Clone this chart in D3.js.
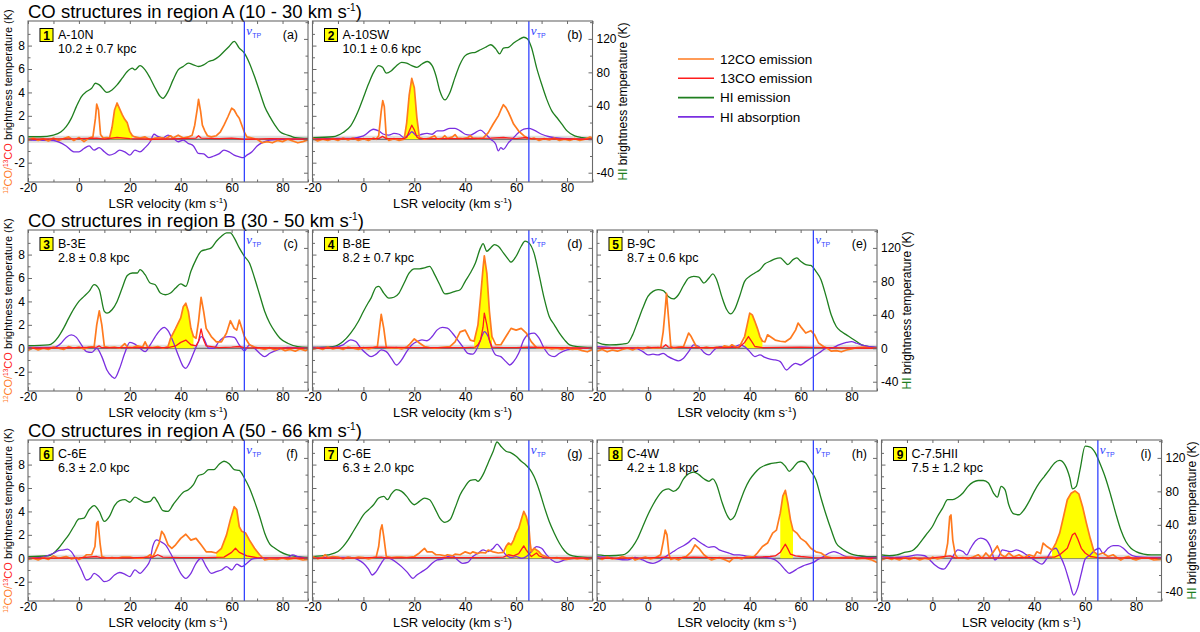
<!DOCTYPE html>
<html>
<head>
<meta charset="utf-8">
<script src="https://cdn.jsdelivr.net/npm/d3@7"></script>
<style>
body { margin: 0; background: #fff; }
svg { display: block; }
text { font-family: "Liberation Sans", Arial, sans-serif; }
</style>
</head>
<body>
<div id="chart"></div>
<script>
// ---- data ----
// velocities in km/s, CO in K (left axis), HI in K (right axis)

var rowTitles = ["CO structures in region A (10 - 30 km s", "CO structures in region B (30 - 50 km s", "CO structures in region A (50 - 66 km s"];
var panelIds = ["a", "b", "c", "d", "e", "f", "g", "h", "i"];
var structureNames = ["A-10N", "A-10SW", "B-3E", "B-8E", "B-9C", "C-6E", "C-6E", "C-4W", "C-7.5HII"];
var distances = ["10.2 \u00b1 0.7 kpc", "10.1 \u00b1 0.6 kpc", "2.8 \u00b1 0.8 kpc", "8.2 \u00b1 0.7 kpc", "8.7 \u00b1 0.6 kpc",
                 "6.3 \u00b1 2.0 kpc", "6.3 \u00b1 2.0 kpc", "4.2 \u00b1 1.8 kpc", "7.5 \u00b1 1.2 kpc"];
var fillRanges = [[12, 21], [16, 22], [35, 45.5], [43, 51], [37.5, 45], [54, 71.5], [55.5, 71], [51.5, 57], [47, 65]];
var tangentVelocity = 65;
var xTicks = [-20, 0, 20, 40, 60, 80];
var coTicks = [-2, 0, 2, 4, 6, 8];
var hiTicks = [-40, 0, 40, 80, 120];
var legendNames = ["12CO emission", "13CO emission", "HI emission", "HI absorption"];

// HI emission
var hiEmA = [[-20,3],[-15,3],[-10,5],[-7,9],[-5,15],[-3,25],[-1,39],[1,51],[3,57],[5,61],[6.5,67],[8,65],[11,56],[13,59],[15,65],[17,73],[19,81],[21,85],[22,83],[24,88],[26,83],[28,73],[30,61],[32,51],[33,49],[35,57],[37,71],[39,83],[41,87],[43,91],[45,89],[47,87],[49,89],[51,93],[53,95],[55,99],[57,105],[59,111],[61,117],[63,109],[65,103],[67,91],[69,75],[71,57],[73,39],[75,27],[77,17],[79,9],[81,6],[83,4],[85,2],[90,1]];
var hiEmB = [[-20,2],[-12,3],[-8,8],[-5,16],[-2,34],[0,50],[2,66],[4,80],[6,88],[7.5,86],[9,79],[11,82],[13,88],[15,92],[17,91],[19,88],[21,86],[23,90],[25,93],[27,88],[28.5,76],[30,58],[32,47],[34,56],[36,74],[38,90],[40,100],[42,103],[44,104],[46,107],[48,110],[50,113],[52,108],[53.5,102],[55,109],[57,110],[59,115],[61,119],[63,122],[64.5,120],[66,110],[68,86],[70,66],[72,48],[74,34],[76,26],[78,18],[80,10],[83,4],[86,2],[90,1]];
var hiEmC = [[-20,3],[-12,4],[-10,7],[-8,14],[-6,24],[-4,36],[-2,47],[0,56],[2,62],[4,68],[6,76],[8,70],[10,44],[11,42],[13,46],[15,56],[17,72],[19,87],[21,90],[23,90],[24,94],[26,88],[28,78],[30,76],[32,66],[34,64],[36,66],[38,72],[40,77],[42,74],[44,92],[46,106],[48,116],[50,118],[52,120],[54,128],[56,134],[58,138],[59.5,138],[61,132],[63,120],[65,110],[67,102],[69,84],[71,64],[73,44],[75,30],[77,20],[79,12],[82,6],[86,2],[90,1]];
var hiEmD = [[-20,1],[-12,2],[-8,8],[-5,18],[-2,32],[0,44],[2,55],[3,60],[5,73],[6,74],[8,66],[10,60],[12,61],[14,66],[16,78],[18,90],[20,95],[22,95],[24,96],[26,98],[28,88],[30,76],[32,65],[34,66],[36,68],[38,70],[40,80],[42,90],[44,102],[46,120],[47,125],[48.5,116],[50,120],[51.5,124],[53,122],[55,114],[57,106],[58,103],[60,110],[62,122],[63.5,128],[65,126],[67,114],[69,88],[71,60],[73,38],[75,28],[77,18],[79,10],[81,4],[84,2],[90,1]];
var hiEmE = [[-20,7],[-18,5],[-15,4],[-10,5],[-8,6],[-6,16],[-4,32],[-2,48],[0,62],[2,68],[4,70],[6,69],[8,62],[10,59],[12,64],[14,75],[16,84],[18,86],[20,85],[22,78],[24,84],[25.5,89],[27,82],[29,62],[31,46],[32.5,41],[34,46],[36,62],[38,80],[40,86],[42,90],[44,94],[46,101],[48,104],[50,107],[52,108],[53.5,104],[55,100],[57,106],[58.5,108],[60,104],[62,100],[64,99],[66,92],[68,82],[70,62],[72,40],[74,26],[76,20],[78,16],[80,12],[82,8],[84,4],[87,2],[90,1]];
var hiEmF = [[-20,2],[-12,3],[-10,6],[-8,12],[-6,20],[-4,28],[-2,38],[0,47],[2,48],[4,58],[6,63],[8,56],[10,44],[12,50],[14,63],[16,69],[18,70],[20,67],[22,73],[24,70],[26,67],[28,68],[29.5,73],[31,67],[33,57],[35,56],[37,64],[39,72],[41,79],[43,82],[45,88],[47,99],[49,101],[51,106],[53,106],[55,112],[57,116],[59,113],[61,106],[63,105],[65,96],[67,84],[69,68],[71,50],[73,30],[75,17],[77,12],[79,8],[82,4],[86,2],[90,1]];
var hiEmG = [[-20,2],[-14,4],[-10,8],[-8,14],[-6,22],[-4,32],[-2,42],[0,52],[2,58],[4,64],[6,72],[8,74],[9.5,70],[11,77],[13,82],[15,80],[17,74],[19,66],[20,64],[22,68],[24,72],[26,70],[28,60],[30,48],[32,43],[34,46],[36,60],[38,76],[40,86],[42,93],[44,94],[45,92],[47,100],[49,114],[51,128],[52.5,139],[54,134],[56,128],[58,126],[60,122],[62,116],[64,111],[65.5,106],[67,98],[69,82],[71,62],[73,44],[75,30],[77,18],[79,9],[81,4],[84,2],[90,1]];
var hiEmH = [[-20,4],[-15,3],[-10,4],[-8,7],[-6,14],[-4,24],[-2,38],[0,52],[2,64],[4,74],[6,81],[8,83],[10,80],[12,84],[14,95],[16,101],[18,103],[20,100],[22,95],[24,92],[25.5,95],[27,88],[29,68],[31,52],[32.5,46],[34,50],[36,66],[38,82],[40,94],[42,102],[44,108],[46,111],[48,113],[50,114],[52,115],[54,110],[55.5,104],[57,108],[59,115],[60.5,116],[62,114],[64,104],[66,94],[68,72],[70,52],[72,34],[74,18],[76,12],[78,8],[80,5],[83,3],[86,2],[90,2]];
var hiEmI = [[-20,4],[-17,3],[-14,4],[-11,7],[-8,9],[-6,14],[-4,22],[-2,30],[0,38],[2,50],[4,60],[6,70],[8,70],[10,73],[12,78],[14,86],[16,91],[18,93],[20,93],[22,90],[24,78],[25.5,73],[27,86],[28.5,82],[30,64],[32,53],[34,52],[36,58],[38,68],[40,80],[42,90],[44,98],[46,106],[48,114],[50,117],[52,112],[54,96],[55,83],[56.5,86],[58,106],[60,134],[62,133],[64,126],[66,112],[68,96],[70,76],[72,54],[74,34],[76,20],[78,12],[80,8],[83,5],[86,4],[90,4]];

// HI absorption
var hiAbsA = [[-20,-1],[-10,-1.5],[-5,-8],[-2,-15],[0,-15],[2,-11],[4,-8],[6,-13],[8,-10],[10,-15],[12,-19],[14,-17],[16,-13],[18,-15],[20,-19],[22,-13],[24,-15],[26,-10],[28,-3],[29.5,6],[31,3.5],[33,1.5],[35,5],[37,1.5],[39,-3],[41,-1],[43,-5],[45,-8],[47,-17],[49,-17.5],[51,-22],[53,-20],[55,-17.5],[57,-13],[59,-15],[61,-19],[63,-21],[64.5,-22],[66,-19],[68,-15],[70,-8],[72,-4],[75,-1],[80,0],[90,0]];
var hiAbsB = [[-20,0],[-10,1],[-5,1],[0,4],[4,12],[6,10],[8,6],[10,5],[12,7],[14,6],[16,2],[18,6],[19,9],[21,4],[23,6],[25,7],[27,6],[29,10],[31,10],[34,13],[36,13],[38,10],[40,6],[42,5],[44,8],[46,11],[48,6],[50,0],[52,-6],[53,-14],[54,-10],[55,-12],[57,-4],[59,2],[61,8],[63,12],[65,13],[67,11],[70,6],[73,3],[78,1],[90,0]];
var hiAbsC = [[-20,1],[-10,1],[-7,6],[-5,13],[-3,16],[-1,13],[1,4],[3,-4],[5,-5],[7,0],[9,-10],[11,-26],[13,-34],[14,-36],[16,-24],[18,-6],[20,7],[22,5],[24,0],[26,-4],[28,4],[30,14],[32,22],[33.5,25],[35,21],[37,8],[39,-8],[41,-22],[42,-24],[43,-20],[45,-6],[47,8],[48,14],[49,12],[51,0],[53,0],[55,8],[57,13],[59,14],[61,13],[63,4],[65,-3],[67,4],[69,0],[71,-6],[73,-10],[75,-6],[78,-2],[82,1],[90,0]];
var hiAbsD = [[-20,1],[-12,1],[-8,4],[-5,10],[-3,8],[-1,0],[1,-6],[3,-10],[5,-7],[7,-2],[9,-4],[11,-12],[13,-20],[15,-14],[17,-4],[19,4],[21,8],[23,10],[25,9],[27,14],[29,22],[31,25],[33,24],[35,18],[37,10],[39,2],[41,-6],[43,-7],[45,2],[46.5,14],[47.5,20],[49,14],[50.5,0],[52,-8],[54,-10],[56,-16],[57.5,-20],[59,-16],[61,-6],[63,10],[65,17],[67,18],[69,12],[71,0],[73,-8],[75,-10],[77,-6],[80,-2],[85,0],[90,0]];
var hiAbsE = [[-20,2],[-15,1],[-10,0],[-5,0],[-2,-4],[0,-8],[2,-7],[4,-8],[6,-6],[8,-10],[10,-13],[12,-15],[14,-12],[16,-4],[18,4],[20,2],[22,-5],[24,-8],[26,-2],[28,2],[30,2],[32,2],[34,2],[36,4],[38,2],[40,-4],[42,-10],[44,-8],[46,-11],[48,-13],[50,-14],[52,-16],[54.5,-26],[56,-22],[58,-18],[60,-20],[62,-16],[64,-12],[66,-8],[68,-4],[70,0],[72,0],[75,4],[78,7],[80,8],[82,6],[85,3],[90,1]];
var hiAbsF = [[-20,0],[-15,1],[-10,6],[-8,9],[-6,10],[-4.5,11],[-3,8],[-1,-2],[1,-14],[3,-26],[4.5,-24],[6,-18],[8,-22],[10,-28],[12,-26],[14,-20],[16,-17],[18,-19],[20,-22],[22,-14],[24,-18],[26,-12],[28,-2],[29,14],[30.5,22],[32,20],[34,16],[36,6],[38,-6],[40,-18],[42,-24],[44,-18],[46,-6],[48,0],[50,-10],[52,-18],[54,-16],[56,-14],[58,-10],[60,-14],[62,-7],[64,-10],[66,-6],[68,-1],[70,0],[75,0],[82,1],[84,4],[86,2],[90,0]];
var hiAbsG = [[-20,0],[-15,1],[-10,1],[-5,1],[-2,-2],[0,-6],[2,-13],[3.5,-20],[5,-16],[7,-6],[9,1],[11,-1],[13,-5],[15,-10],[17,-16],[19.5,-24],[21,-20],[23,-16],[25,-12],[27,-6],[29,-2],[31,-1],[33,2],[35,3],[37,-2],[39,-6],[41,-5],[43,2],[45,6],[47,10],[49,8],[51,12],[52.5,17],[54,12],[56,4],[58,1],[60,2],[62,0],[64,2],[66,8],[68,14],[70,12],[72,4],[74,-2],[76,-5],[79,-2],[83,0],[90,0]];
var hiAbsH = [[-20,2],[-15,1],[-12,-1],[-8,-2],[-5,1],[-2,-2],[0,-5],[2,-6],[4,-4],[6,0],[8,4],[10,8],[12,12],[14,15],[16,19],[18,24],[20,20],[22,16],[24,13],[26,14],[28,10],[30,8],[32,6],[34,4],[36,4],[38,3],[40,2],[42,2],[44,1],[46,1],[48,0],[50,-2],[52,-7],[54,-14],[55.5,-18],[57,-16],[59,-12],[61,-9],[63,-7],[65,-5],[67,-1],[69,2],[71,6],[73,8],[75,6],[78,2],[82,1],[90,1]];
var hiAbsI = [[-20,2],[-15,1],[-10,2],[-6,4],[-3,3],[-1,-2],[1,-8],[3,-12],[4.5,-13],[6,-8],[8,2],[10,10],[12,8],[13.5,4],[15,12],[17,21],[19,24],[21,22],[23,12],[24.5,-2],[26,2],[27.5,10],[29,9],[31,8],[33,10],[35,8],[37,4],[39,0],[41,-4],[43,-7],[45,0],[47,10],[48.5,12],[50,4],[52,-10],[54,-30],[55.5,-44],[57,-36],[58.5,-18],[60,-1],[62,4],[64,10],[65.5,12],[67,6],[69,12],[71,15],[73,15],[75,12],[77,6],[80,2],[85,1],[90,1]];

// 12CO emission
var co12A = [[-20,-0.1],[-18,0.1],[-16,-0.1],[-14,0.05],[-12,-0.15],[-10,0.1],[-8,-0.1],[-6,0.05],[-4,0.2],[-2,-0.1],[0,0.15],[2,-0.2],[4,0.1],[5.5,0.2],[6.5,1.8],[7,3.0],[7.7,2.5],[8.5,0.4],[9.5,0.1],[11,0.15],[12,0.1],[13,1.0],[14,2.5],[15,3.1],[16,2.6],[17,2.1],[18,1.7],[19,1.4],[20,0.65],[21,0.3],[22,0.2],[24,0.1],[26,0.2],[28,-0.05],[30,0.1],[32,0.15],[34,0.05],[36,0.3],[37,0.1],[39,0.35],[41,0.1],[43,0.2],[44.5,0.35],[45.5,1.2],[46.5,2.6],[47,3.4],[47.8,2.4],[48.5,1.2],[49.5,0.7],[50.5,0.3],[52,0.2],[54,0.3],[55.5,0.6],[57,1.2],[58.5,1.9],[60,2.65],[61,2.5],[62,2.1],[63,1.8],[64,1.2],[65,0.6],[66,0.2],[68,0.1],[70,0],[72,-0.3],[74,-0.2],[76,-0.3],[78,-0.1],[80,-0.2],[82,0],[84,-0.15],[86,-0.3],[88,-0.2],[90,-0.05]];
var co12B = [[-20,0.1],[-18,-0.15],[-16,0],[-14,-0.1],[-12,0.05],[-10,-0.1],[-8,0.1],[-6,-0.05],[-4,0.1],[-2,-0.1],[0,0.05],[2,-0.1],[4,0.1],[5,0],[6,0.3],[7,2.4],[7.6,3.3],[8.2,2.8],[9,0.15],[10,-0.1],[12,0.05],[14,-0.1],[16,0],[17,1.4],[18,3.8],[19,5.2],[20,4.4],[21,1.85],[22,0.15],[24,0],[26,0.1],[28,0.3],[29,0],[31,0.1],[32,0.3],[33,0.05],[35,0.2],[36,0.4],[37,0.1],[39,0.05],[41,0.15],[42,0.3],[43,0.1],[45,0.05],[47,0.1],[49,0.55],[51,1.3],[53,2.0],[54,2.5],[55,2.95],[56,2.7],[57,2.3],[58,1.8],[59,1.3],[61,0.7],[63,0.3],[65,0],[67,0.1],[69,-0.1],[71,0.05],[73,-0.05],[75,0.1],[77,-0.1],[79,0],[81,-0.1],[83,0.05],[85,-0.1],[87,0],[89,0.2],[90,0.1]];
var co12C = [[-20,-0.2],[-18,0.05],[-16,-0.15],[-14,0],[-12,-0.1],[-10,0.1],[-8,0],[-6,-0.1],[-4,0.15],[-2,0],[0,0.1],[2,-0.05],[4,0.1],[6,0.15],[7,2.0],[8,3.2],[9,2.0],[10,0.15],[12,0.05],[14,0.1],[16,0],[18,0.4],[19,0.1],[21,0.05],[23,0.2],[25,0.1],[26,0.55],[27,0.1],[29,0.05],[31,0.15],[33,0],[35,0.15],[36,0.85],[38,1.7],[40,2.6],[41,3.55],[42,3.85],[43,3.15],[44,1.7],[45,1.0],[46,0.85],[47,2.3],[48,4.35],[49,3.15],[50,1.7],[52,1.0],[54,0.55],[56,0.55],[58,1.3],[59.5,2.35],[61,1.7],[62,1.55],[63,2.4],[64,1.7],[65,1.0],[67,0.3],[69,0.1],[71,0],[73,-0.1],[75,0.05],[77,-0.15],[79,0],[81,-0.2],[83,-0.1],[85,-0.25],[87,-0.05],[89,-0.2],[90,-0.1]];
var co12D = [[-20,-0.1],[-18,0.05],[-16,-0.1],[-14,0.1],[-12,-0.05],[-10,0.05],[-8,-0.1],[-6,0.1],[-4,0],[-2,-0.1],[0,0.05],[2,-0.05],[4,0.05],[5.5,0.15],[6.5,2.0],[7,2.9],[8,1.7],[9,0.05],[11,0],[13,0.05],[15,-0.05],[17,0.1],[18,0.3],[20,0.8],[22,0.45],[24,0.15],[26,0.05],[28,0],[30,0.05],[32,0.1],[34,0.15],[36,0.55],[38,1.4],[40,1.55],[42,0.7],[43.5,0.6],[45,2.0],[46,4.3],[47,6.85],[47.5,7.9],[48.5,6.4],[49.5,3.15],[50.5,1.0],[52,0.3],[54,0.3],[56,1.0],[58,1.7],[60,1.55],[62,1.7],[64,1.3],[66,0.55],[68,0.05],[70,0],[72,0.05],[74,-0.05],[76,0],[78,-0.1],[80,0.05],[82,-0.1],[84,-0.05],[86,-0.2],[88,-0.3],[90,-0.1]];
var co12E = [[-20,-0.25],[-18,-0.1],[-16,-0.3],[-14,-0.15],[-12,-0.25],[-10,-0.1],[-8,0],[-6,-0.15],[-4,0.05],[-2,-0.05],[0,0.1],[2,0],[4,0.05],[5,0],[6,1.4],[6.7,3.1],[7.3,4.7],[8,2.85],[9,0.15],[10,0],[12,0.1],[14,0.15],[16,1.3],[17,1.0],[19,0.15],[21,0],[23,0.1],[25,0],[27,0.1],[29,0.05],[30,0.2],[32,0.1],[33,0.3],[35,0.05],[36,0.15],[38,1.0],[39,2.0],[40,3.0],[41,2.85],[42,2.3],[43,1.7],[44,1.0],[45,0.6],[46,0.55],[47,1.15],[48,1.0],[50,0.7],[52,0.6],[54,0.55],[56,0.85],[58,1.55],[59,2.15],[60,1.85],[62,1.3],[64,1.5],[65.5,1.15],[67,0.45],[69,0.15],[70.5,0],[72,-0.25],[74,-0.2],[76,-0.3],[78,-0.15],[80,-0.05],[82,0.05],[85,0.1],[88,0],[90,0]];
var co12F = [[-20,-0.1],[-18,0],[-16,-0.15],[-14,0.05],[-12,-0.1],[-10,0.2],[-8,0],[-6,0.1],[-5,0.15],[-3,-0.05],[-1,0.05],[0,-0.1],[2,0.1],[3,0.3],[5,0.3],[6.3,1.0],[7,3.0],[7.5,3.15],[8.3,1.3],[9,0.15],[11,0],[13,0.05],[15,0],[17,0.1],[20,0.1],[22,0],[25,0],[27,0.15],[28,0.3],[29,0.1],[30,0.55],[31.5,1.3],[32.5,2.3],[33.5,2.0],[35,1.15],[36.5,0.85],[38,1.15],[40,1.7],[42,2.05],[44,1.55],[46,1.7],[48,1.15],[50,0.55],[52,0.55],[54,0.45],[56,0.85],[58,2.0],[59.5,3.3],[61,4.4],[62,4.15],[63,2.7],[64,2.3],[65.5,2.15],[67,1.55],[69,0.85],[71,0.3],[73,-0.15],[75,-0.05],[78,-0.1],[80,0],[82,-0.1],[85,0],[88,-0.15],[90,-0.1]];
var co12G = [[-20,0.15],[-18,-0.05],[-16,0.1],[-15,0.3],[-14,0.05],[-12,0.15],[-10,0.1],[-8,-0.05],[-6,0.1],[-4,0],[-2,0.1],[0,0.05],[2,-0.05],[4,0.05],[5,0.1],[6,1.0],[6.7,2.4],[7.3,2.85],[8,1.85],[9,0.15],[11,0.05],[13,0.1],[15,0.1],[17,0.05],[20,0.15],[22,0.45],[24,0.85],[25,0.55],[27,0.55],[28.5,0.3],[30,0.3],[32,0.2],[33,0.3],[35,0.2],[36,0.35],[38,0.3],[40,0.55],[42,0.4],[43,0.55],[45,0.4],[46,0.5],[48,0.45],[49,0.7],[51,0.55],[53,0.45],[55,0.5],[56,1.0],[57,1.3],[58,1.15],[59,1.55],[60,2.15],[61,2.55],[62,3.3],[63,4.0],[64,3.55],[65,2.7],[65.5,1.3],[66,0.55],[67,0.85],[68,0.7],[69,0.55],[70,0.3],[72,0.1],[74,0],[76,0.05],[78,-0.05],[80,-0.1],[82,0],[84,-0.05],[86,0],[88,-0.1],[90,0]];
var co12H = [[-20,0.05],[-18,-0.1],[-16,0.1],[-14,-0.05],[-12,0],[-10,0.15],[-8,0],[-6,0.05],[-5,-0.15],[-3,0],[-1,0.1],[1,-0.05],[3,0.05],[5,0.3],[6,1.4],[6.8,2.4],[7.5,2.0],[8.3,0.3],[9,-0.1],[10.5,0],[12,-0.15],[13.5,0.05],[15,0.15],[17,0.55],[18.5,1.15],[20,0.85],[22,0.3],[23.5,0.05],[25,-0.15],[27,0],[28,0.05],[30,-0.1],[32,-0.3],[33.5,0],[35,0.05],[37,-0.05],[38.5,0.1],[40,0.15],[41.5,0.1],[43,0.45],[45,1.0],[47,1.3],[49,2.15],[50.5,2.4],[52,3.85],[53,5.3],[54,5.8],[55,4.7],[56,3.3],[57,2.4],[58.5,2.15],[60,1.7],[62,1.4],[64,0.85],[66,0.55],[68,0.45],[70,0.15],[73,0],[76,0.05],[80,0.1],[82,-0.05],[85,0],[88,-0.15],[90,-0.35]];
var co12I = [[-20,-0.15],[-18,0.05],[-16,-0.1],[-15,0],[-13,-0.15],[-11,0.05],[-9,-0.1],[-7,0.05],[-5,-0.15],[-3,0],[-1,-0.1],[0,0.1],[2,-0.05],[4,0.05],[5,0.15],[6,1.3],[6.8,3.55],[7.3,3.7],[8,1.55],[9,0.3],[10,0],[12,0.05],[14,-0.05],[16,0.1],[18,0.3],[19.5,0],[21,0.45],[22.5,0.1],[24,0.55],[25.5,1.05],[27,0.3],[28.5,0.1],[30,0.45],[32,0.1],[34,0.3],[36,0.05],[38,0.3],[40,0.15],[41,0.55],[42.5,0.4],[43.5,1.3],[45,1.0],[47,0.7],[48.5,1.3],[50,2.15],[51.5,3.55],[53,5.0],[54.5,5.55],[56,5.75],[57.5,5.5],[59,4.4],[60.5,3.0],[62,1.7],[63.5,0.55],[65,0.3],[67,0.45],[69,0.15],[71,0.3],[72.5,0.05],[74,-0.15],[75.5,0.05],[77,0.15],[78.5,-0.05],[80,-0.15],[82,0],[85,0],[87,-0.15],[90,-0.1]];

// 13CO emission
var co13A = [[-20,0],[-10,0.03],[0,0.05],[7,0.1],[10,0.02],[15,0.15],[20,0.05],[30,0],[40,0.05],[46,0.1],[47,0.3],[48,0.1],[55,0.05],[60,0.1],[65,0],[75,0.05],[90,0]];
var co13B = [[-20,0],[0,0.05],[6,0.05],[7.5,0.25],[9,0.05],[16,0.05],[17,0.15],[18,0.7],[19,1.2],[20,0.8],[21,0.2],[22,0.05],[30,0.05],[40,0.05],[50,0.1],[55,0.15],[60,0.05],[64,0.15],[66,0.05],[90,0]];
var co13C = [[-20,0],[0,0.05],[7,0.1],[8,0.2],[9,0.05],[20,0.05],[35,0.05],[38,0.2],[40,0.5],[42,0.7],[44,0.3],[46,0.2],[47,0.6],[48,1.65],[49,0.7],[50,0.2],[55,0.05],[60,0.1],[63,0.15],[65,0.05],[90,0]];
var co13D = [[-20,0],[0,0.05],[7,0.1],[20,0.05],[40,0.05],[44,0.1],[45,0.3],[46,0.7],[47,1.8],[47.5,3.0],[48.5,2.0],[49.5,0.7],[50.5,0.1],[55,0.05],[60,0.05],[65,0.1],[90,0]];
var co13E = [[-20,0],[0,0.05],[6,0.1],[7,0.3],[8,0.1],[20,0.05],[30,0.05],[36,0.1],[38,0.5],[39.5,1.0],[41,0.5],[42,0.15],[45,0.05],[60,0.1],[70,0.05],[90,0]];
var co13F = [[-20,0],[0,0.03],[7,0.15],[9,0.03],[20,0.03],[29,0.1],[31,0.3],[33,0.1],[40,0.05],[50,0.05],[57,0.1],[60,0.5],[61.5,0.85],[63,0.5],[66,0.2],[70,0.05],[90,0]];
var co13G = [[-20,0],[0,0.03],[7,0.1],[9,0.03],[20,0.05],[40,0.05],[50,0.05],[55,0.1],[57,0.3],[59,0.2],[61,0.4],[63,1.05],[64,0.7],[65,0.4],[66,0.15],[68,0.45],[69,0.2],[71,0.05],[90,0]];
var co13H = [[-20,0],[0,0.03],[7,0.1],[9,0.03],[18,0.1],[30,0.03],[40,0.05],[48,0.15],[50,0.2],[52,0.5],[54,1.2],[55,0.8],[56,0.35],[58,0.2],[60,0.15],[65,0.05],[90,0]];
var co13I = [[-20,0],[0,0.03],[7,0.2],[9,0.03],[20,0.03],[40,0.05],[45,0.1],[48,0.1],[50,0.3],[53,0.85],[55,2.0],[56,2.15],[57,1.7],[58.5,0.85],[60,0.45],[62,0.15],[65,0.05],[90,0]];

var hiEmission = [hiEmA, hiEmB, hiEmC, hiEmD, hiEmE, hiEmF, hiEmG, hiEmH, hiEmI];
var hiAbsorption = [hiAbsA, hiAbsB, hiAbsC, hiAbsD, hiAbsE, hiAbsF, hiAbsG, hiAbsH, hiAbsI];
var co12 = [co12A, co12B, co12C, co12D, co12E, co12F, co12G, co12H, co12I];
var co13 = [co13A, co13B, co13C, co13D, co13E, co13F, co13G, co13H, co13I];

// ---- layout ----
var width = 1200, height = 632;
var panelW = 280, panelH = 161;
var colLeft = [28, 312.5, 597, 881.5];
var rowTop = [21, 230, 440];
var rowCols = [2, 3, 4];
var panelRow = [0, 0, 1, 1, 1, 2, 2, 2, 2];
var panelCol = [0, 1, 0, 1, 2, 0, 1, 2, 3];

var colors = { co12: "#ff7a1f", co13: "#ff1c1c", hi: "#1f7f1f", abs: "#7a2fe0", tp: "#3344ff", frame: "#6a6a6a" };
var legendColors = [colors.co12, colors.co13, colors.hi, colors.abs];

var svg = d3.select("#chart").append("svg")
    .attr("width", width)
    .attr("height", height);

var x = d3.scaleLinear().domain([-20, 90]).range([0, panelW]);
var yCO = d3.scaleLinear().domain([-3.65, 10.1]).range([panelH, 0]);
var yHI = d3.scaleLinear().domain([-3.65 * 14, 10.1 * 14]).range([panelH, 0]);

var coLine = d3.line().x(d => x(d[0])).y(d => yCO(d[1]));
var hiLine = d3.line().x(d => x(d[0])).y(d => yHI(d[1])).curve(d3.curveMonotoneX);
var coArea = d3.area().x(d => x(d[0])).y0(yCO(0)).y1(d => yCO(d[1]));

// row titles with superscript -1
rowTitles.forEach(function(t, r) {
    var txt = svg.append("text")
        .attr("x", colLeft[0])
        .attr("y", rowTop[r] - 3)
        .attr("font-size", 18.5)
        .attr("fill", "#000");
    txt.append("tspan").text(t);
    txt.append("tspan").attr("dy", -7).attr("font-size", 10).text("-1");
    txt.append("tspan").attr("dy", 7).text(")");
});

panelIds.forEach(function(id, i) {
    var r = panelRow[i], c = panelCol[i];
    var left = colLeft[c], top = rowTop[r];
    var isFirst = c === 0, isLast = c === rowCols[r] - 1;
    var g = svg.append("g").attr("transform", "translate(" + left + "," + top + ")");

    g.append("clipPath").attr("id", "clip-" + id)
        .append("rect").attr("width", panelW).attr("height", panelH);
    var plot = g.append("g").attr("clip-path", "url(#clip-" + id + ")");

    // noise band and zero line
    plot.append("rect")
        .attr("x", 0).attr("width", panelW)
        .attr("y", yCO(0.3)).attr("height", yCO(-0.3) - yCO(0.3))
        .attr("fill", "#dedede");
    plot.append("line")
        .attr("x1", 0).attr("x2", panelW)
        .attr("y1", yCO(0)).attr("y2", yCO(0))
        .attr("stroke", "#333").attr("stroke-width", 0.8);

    // yellow area of the CO structure
    var fr = fillRanges[i];
    plot.append("path")
        .datum(co12[i].filter(d => d[0] >= fr[0] && d[0] <= fr[1]))
        .attr("d", coArea)
        .attr("fill", "#ffff00");

    plot.append("path").datum(hiEmission[i]).attr("d", hiLine)
        .attr("fill", "none").attr("stroke", colors.hi).attr("stroke-width", 1.3);
    plot.append("path").datum(hiAbsorption[i]).attr("d", hiLine)
        .attr("fill", "none").attr("stroke", colors.abs).attr("stroke-width", 1.3);
    plot.append("path").datum(co12[i]).attr("d", coLine)
        .attr("fill", "none").attr("stroke", colors.co12).attr("stroke-width", 1.7)
        .attr("stroke-linejoin", "round");
    plot.append("path").datum(co13[i]).attr("d", coLine)
        .attr("fill", "none").attr("stroke", colors.co13).attr("stroke-width", 1.3)
        .attr("stroke-linejoin", "round");

    // tangent velocity
    plot.append("line")
        .attr("x1", x(tangentVelocity)).attr("x2", x(tangentVelocity))
        .attr("y1", 0).attr("y2", panelH)
        .attr("stroke", colors.tp).attr("stroke-width", 1.3);
    var tp = g.append("text")
        .attr("x", x(tangentVelocity) + 2).attr("y", 14)
        .attr("fill", colors.tp);
    tp.append("tspan").attr("font-family", "Liberation Serif, serif").attr("font-style", "italic")
        .attr("font-size", 13).text("v");
    tp.append("tspan").attr("dy", 3).attr("font-size", 7).text("TP");

    // axes (ticks inside)
    function style(sel) {
        sel.select(".domain").remove();
        sel.selectAll("line").attr("stroke", colors.frame);
        sel.selectAll("text").attr("font-size", 12).attr("fill", "#000")
            .attr("font-family", "Liberation Sans, Arial, sans-serif");
    }
    g.append("g").attr("transform", "translate(0," + panelH + ")")
        .call(d3.axisBottom(x).tickValues(xTicks).tickSize(-4).tickPadding(1.5).tickFormat(d => String(d)))
        .call(style);
    g.append("g").attr("transform", "translate(0," + panelH + ")")
        .call(d3.axisBottom(x).tickValues(d3.range(-10, 91, 20)).tickSize(-2.5).tickFormat(""))
        .call(style);
    g.append("g")
        .call(d3.axisTop(x).tickValues(d3.range(-20, 91, 10)).tickSize(-3).tickFormat(""))
        .call(style);
    g.append("g")
        .call(d3.axisLeft(yCO).tickValues(coTicks).tickSize(-4).tickPadding(3)
            .tickFormat(isFirst ? (d => String(d)) : ""))
        .call(style);
    g.append("g")
        .call(d3.axisLeft(yCO).tickValues(d3.range(-3, 10, 2)).tickSize(-2.5).tickFormat(""))
        .call(style);
    g.append("g").attr("transform", "translate(" + panelW + ",0)")
        .call(d3.axisRight(yHI).tickValues(hiTicks).tickSize(-4).tickPadding(4)
            .tickFormat(isLast ? (d => String(d)) : ""))
        .call(style);
    g.append("g").attr("transform", "translate(" + panelW + ",0)")
        .call(d3.axisRight(yHI).tickValues(d3.range(-20, 141, 40)).tickSize(-2.5).tickFormat(""))
        .call(style);

    g.append("rect")
        .attr("width", panelW).attr("height", panelH)
        .attr("fill", "none").attr("stroke", colors.frame).attr("stroke-width", 1.1);

    // x axis title
    var xt = g.append("text")
        .attr("x", panelW / 2).attr("y", panelH + 25.5)
        .attr("text-anchor", "middle").attr("font-size", 13);
    xt.append("tspan").text("LSR velocity (km s");
    xt.append("tspan").attr("dy", -5).attr("font-size", 8).text("-1");
    xt.append("tspan").attr("dy", 5).text(")");

    // structure label
    g.append("rect")
        .attr("x", 12).attr("y", 7.5).attr("width", 13).attr("height", 13)
        .attr("fill", "#ffff00").attr("stroke", "#000").attr("stroke-width", 1);
    g.append("text")
        .attr("x", 18.5).attr("y", 18.5).attr("text-anchor", "middle")
        .attr("font-size", 12).attr("font-weight", "bold").text(i + 1);
    g.append("text").attr("x", 30).attr("y", 18).attr("font-size", 12.5).text(structureNames[i]);
    g.append("text").attr("x", 30).attr("y", 32).attr("font-size", 12.5).text(distances[i]);
    g.append("text").attr("x", panelW - 10).attr("y", 18)
        .attr("text-anchor", "end").attr("font-size", 12.5).text("(" + id + ")");

    // axis titles
    if (isFirst) {
        var yl = g.append("text")
            .attr("transform", "translate(-16," + (panelH / 2) + ") rotate(-90)")
            .attr("text-anchor", "middle").attr("font-size", 11);
        yl.append("tspan").attr("dy", -4).attr("font-size", 6.5).attr("fill", colors.co12).text("12");
        yl.append("tspan").attr("dy", 4).attr("fill", colors.co12).text("CO/");
        yl.append("tspan").attr("dy", -4).attr("font-size", 6.5).attr("fill", colors.co13).text("13");
        yl.append("tspan").attr("dy", 4).attr("fill", colors.co13).text("CO");
        yl.append("tspan").text(" brightness temperature (K)");
    }
    if (isLast) {
        var yr = g.append("text")
            .attr("transform", "translate(" + (panelW + 34) + "," + (panelH / 2) + ") rotate(-90)")
            .attr("text-anchor", "middle").attr("font-size", 12);
        yr.append("tspan").attr("fill", colors.hi).text("HI");
        yr.append("tspan").text(" brightness temperature (K)");
    }
});

// legend
var legend = svg.append("g").attr("transform", "translate(678,59)");
legendNames.forEach(function(name, k) {
    legend.append("line")
        .attr("x1", 0).attr("x2", 36)
        .attr("y1", k * 19.3).attr("y2", k * 19.3)
        .attr("stroke", legendColors[k]).attr("stroke-width", 1.6);
    legend.append("text")
        .attr("x", 42).attr("y", k * 19.3).attr("dy", "0.35em")
        .attr("font-size", 13.5).text(name);
});
</script>
</body>
</html>
